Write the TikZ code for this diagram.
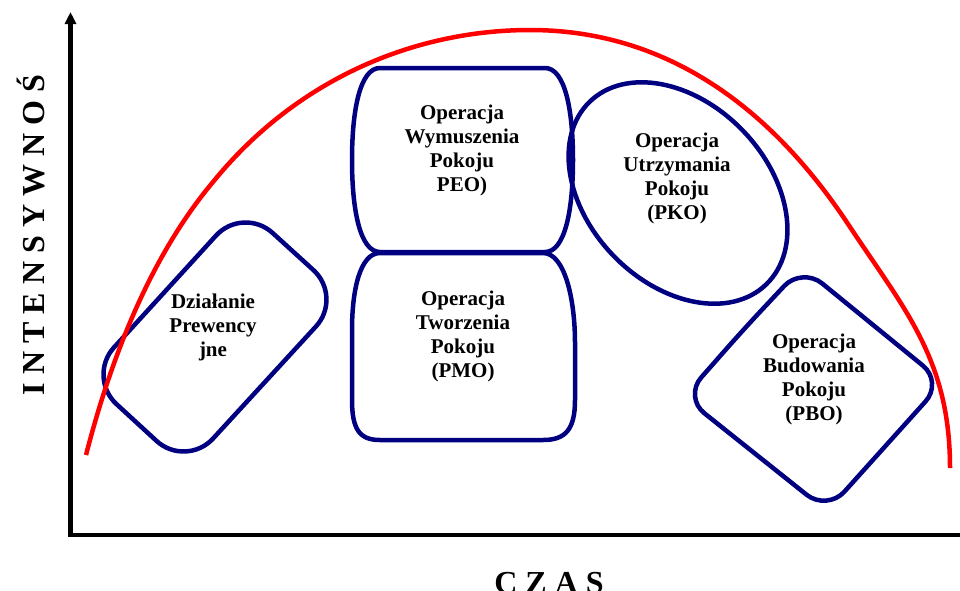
\documentclass[tikz,border=0pt]{standalone}
\usepackage{fontspec}
\setmainfont{Liberation Serif}
\usetikzlibrary{arrows.meta, shapes.geometric}

\definecolor{curvered}{RGB}{255,0,0}
\definecolor{opnavy}{RGB}{0,0,128}

\begin{document}
\begin{tikzpicture}[x=1pt, y=-1pt,
  axisline/.style={line width=4.5pt, black},
  opshape/.style={draw=opnavy, line width=4.5pt},
  optext/.style={align=center, inner sep=0pt, font=\fontsize{21}{24}\selectfont\bfseries},
  axislabel/.style={inner sep=0pt, font=\fontsize{32}{38}\selectfont\bfseries},
  trend/.style={draw=curvered, line width=4.5pt}]
\useasboundingbox (0,0) rectangle (960,590);

% axes
\coordinate (origin) at (70.5,535);
\coordinate (ytip) at (70.5,12);
\coordinate (xend) at (962,535);
\draw[axisline, -{Triangle[length=12pt,width=11pt]}] (xend) -- (origin) -- (ytip);

% operation shapes
\draw[opshape, rounded corners=40pt] (165,291.5) -- (243,206) -- (343,297) -- (186,468) -- (87,377) -- cycle;

\draw[opshape] (380,68) -- (545,68)
  .. controls (565,68) and (573,110) .. (573,160)
  .. controls (573,210) and (565,252) .. (545,252)
  -- (380,252)
  .. controls (360,252) and (352,210) .. (352,160)
  .. controls (352,110) and (360,68) .. (380,68) -- cycle;

\draw[opshape] (380,253) -- (543,253)
  .. controls (565,253) and (575,300) .. (575,343)
  -- (575,400)
  .. controls (575,430) and (565,440) .. (543,440)
  -- (380,440)
  .. controls (360,440) and (352,430) .. (352,400)
  -- (352,330)
  .. controls (352,290) and (360,253) .. (380,253) -- cycle;

\node[opshape, ellipse, minimum width=254pt, minimum height=180pt, inner sep=0pt, rotate=-46] (pkoshape) at (678,193) {};

\draw[opshape, rounded corners=26pt] (743,330) -- (802,267) -- (943,382) -- (827,511) -- (684,397) -- cycle;

% labels inside the shapes
\node[optext] (dzialanie) at (213,327.75) {Działanie\\Prewency\\jne};
\node[optext] (peo) at (462,150.75) {Operacja\\Wymuszenia\\Pokoju\\PEO)};
\node[optext] (pmo) at (463,336.75) {Operacja\\Tworzenia\\Pokoju\\(PMO)};
\node[optext] (pko) at (677,178.75) {Operacja\\Utrzymania\\Pokoju\\(PKO)};
\node[optext] (pbo) at (814,379.75) {Operacja\\Budowania\\Pokoju\\(PBO)};

% intensity curve
\draw[trend] (86,455)
  .. controls (111,358) and (150,257) .. (213,182)
  .. controls (300,75) and (420,30) .. (530,30)
  .. controls (650,30) and (760,90) .. (850,227)
  .. controls (905,310) and (950,360) .. (950,468);

% axis titles
\node[axislabel, rotate=90, anchor=base] (ylabel) at (44,235) {I N T E N S Y W N O Ś};
\node[axislabel, anchor=base] (xlabel) at (549,593) {C Z A S};
\end{tikzpicture}
\end{document}
